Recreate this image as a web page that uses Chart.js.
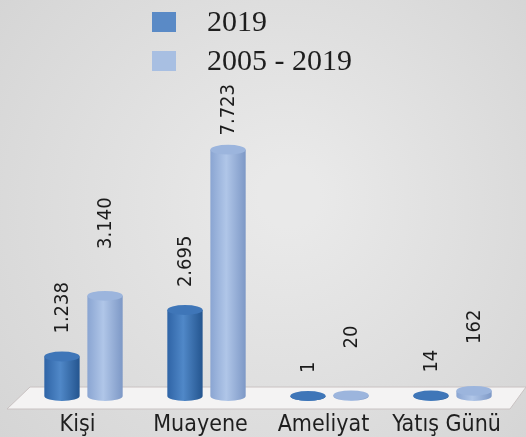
<!DOCTYPE html>
<html lang="tr">
<head>
    <meta charset="utf-8">
    <title>2019 / 2005 - 2019</title>
    <script src="https://cdn.jsdelivr.net/npm/chart.js"></script>
    <style>
        html, body {
            margin: 0;
            padding: 0;
            background: #d9d9d9;
        }
        .wrap {
            width: 526px;
            height: 437px;
        }
    </style>
</head>
<body>
    <div class="wrap">
        <canvas id="chart" width="526" height="437"></canvas>
    </div>

    <script>
        const categories = ['Kişi', 'Muayene', 'Ameliyat', 'Yatış Günü'];
        const seriesNames = ['2019', '2005 - 2019'];
        const values2019 = [1238, 2695, 1, 14];
        const values2005to2019 = [3140, 7723, 20, 162];

        const sansFamily = '"DejaVu Sans Condensed", "Liberation Sans", sans-serif';

        // renk: gövde kenar, gövde orta, üst kapak, lejant kutusu
        const palettes = [
            { edge: '#2f64a6', mid: '#5088c8', dark: '#24558f', top: '#3f76b8', legend: '#5a8ac6' },
            { edge: '#8aa5d2', mid: '#b0c6e8', dark: '#7d98c6', top: '#9cb5dd', legend: '#a8bfe2' }
        ];

        const fmt = v => v.toLocaleString('tr-TR');

        // arka plan (gri doku yerine yumuşak degrade)
        const backgroundPlugin = {
            id: 'bg',
            beforeDraw(chart) {
                const { ctx, width, height } = chart;
                const g = ctx.createRadialGradient(width * 0.55, height * 0.45, 30, width * 0.5, height * 0.5, width * 0.75);
                g.addColorStop(0, '#e9e9e9');
                g.addColorStop(1, '#d2d2d2');
                ctx.save();
                ctx.fillStyle = g;
                ctx.fillRect(0, 0, width, height);
                ctx.restore();
            }
        };

        // zemin levhası
        const floorPlugin = {
            id: 'floor',
            beforeDatasetsDraw(chart) {
                const { ctx, chartArea } = chart;
                const b = chartArea.bottom;
                ctx.save();
                ctx.beginPath();
                ctx.moveTo(30, b - 9);
                ctx.lineTo(chart.width, b - 9);
                ctx.lineTo(chart.width - 16, b + 13);
                ctx.lineTo(7, b + 13);
                ctx.closePath();
                ctx.fillStyle = '#f4f3f3';
                ctx.fill();
                ctx.strokeStyle = '#c9c2c2';
                ctx.lineWidth = 1;
                ctx.stroke();
                ctx.restore();
            }
        };

        // silindir çubuklar + döndürülmüş değer etiketleri
        const cylinderPlugin = {
            id: 'cylinders',
            afterDatasetsDraw(chart) {
                const { ctx } = chart;
                chart.data.datasets.forEach((ds, di) => {
                    const meta = chart.getDatasetMeta(di);
                    const pal = palettes[di];
                    meta.data.forEach((bar, i) => {
                        const w = bar.width;
                        const x0 = bar.x - w / 2;
                        const x1 = bar.x + w / 2;
                        const ry = w * 0.14;
                        const top = bar.y;
                        const base = bar.base;

                        const g = ctx.createLinearGradient(x0, 0, x1, 0);
                        g.addColorStop(0, pal.edge);
                        g.addColorStop(0.45, pal.mid);
                        g.addColorStop(1, pal.dark);

                        ctx.save();
                        ctx.beginPath();
                        ctx.moveTo(x0, top);
                        ctx.lineTo(x0, base);
                        ctx.ellipse(bar.x, base, w / 2, ry, 0, Math.PI, 0, true);
                        ctx.lineTo(x1, top);
                        ctx.closePath();
                        ctx.fillStyle = g;
                        ctx.fill();

                        ctx.beginPath();
                        ctx.ellipse(bar.x, top, w / 2, ry, 0, 0, Math.PI * 2);
                        ctx.fillStyle = pal.top;
                        ctx.fill();
                        ctx.restore();

                        // etiket
                        const label = fmt(ds.data[i]);
                        ctx.save();
                        ctx.font = '20px ' + sansFamily;
                        const tw = ctx.measureText(label).width;
                        const gap = di === 0 ? 18 : 42;
                        let start = top - ry - gap;
                        if (start - tw < 84) start = 84 + tw;
                        ctx.translate(bar.x, start);
                        ctx.rotate(-Math.PI / 2);
                        ctx.fillStyle = '#1c1c1c';
                        ctx.textAlign = 'left';
                        ctx.textBaseline = 'middle';
                        ctx.fillText(label, 0, 1);
                        ctx.restore();
                    });
                });
            }
        };

        // dikey lejant (sol üst)
        const legendPlugin = {
            id: 'stackLegend',
            afterDraw(chart) {
                const { ctx } = chart;
                ctx.save();
                ctx.font = '30px "Liberation Serif"';
                ctx.textBaseline = 'middle';
                chart.data.datasets.forEach((ds, di) => {
                    const cy = 22 + di * 39;
                    ctx.fillStyle = palettes[di].legend;
                    ctx.fillRect(152, cy - 10, 24, 20);
                    ctx.fillStyle = '#1e1e1e';
                    ctx.fillText(ds.label, 207, cy + 1);
                });
                ctx.restore();
            }
        };

        new Chart(document.getElementById('chart'), {
            type: 'bar',
            data: {
                labels: categories,
                datasets: [
                    { label: seriesNames[0], data: values2019, backgroundColor: 'rgba(0,0,0,0)' },
                    { label: seriesNames[1], data: values2005to2019, backgroundColor: 'rgba(0,0,0,0)' }
                ]
            },
            options: {
                responsive: false,
                animation: false,
                categoryPercentage: 0.7,
                barPercentage: 0.82,
                layout: {
                    padding: { left: 22, right: 12, top: 77, bottom: 0 }
                },
                plugins: {
                    legend: { display: false },
                    tooltip: { enabled: false }
                },
                scales: {
                    x: {
                        grid: { display: false, drawTicks: false },
                        border: { display: false },
                        afterFit(scale) { scale.height = 41; },
                        ticks: {
                            color: '#1e1e1e',
                            padding: 15,
                            labelOffset: -6,
                            autoSkip: false,
                            maxRotation: 0,
                            minRotation: 0,
                            font: { family: sansFamily, size: 23 }
                        }
                    },
                    y: {
                        display: false,
                        min: 0,
                        max: 10000
                    }
                }
            },
            plugins: [backgroundPlugin, floorPlugin, cylinderPlugin, legendPlugin]
        });
    </script>
</body>
</html>
